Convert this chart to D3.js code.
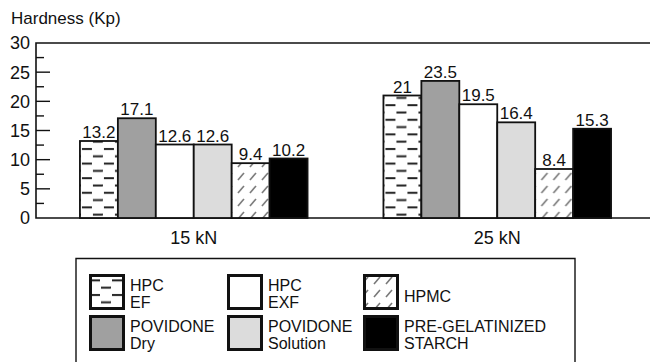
<!DOCTYPE html>
<html>
<head>
<meta charset="utf-8">
<script src="https://cdn.jsdelivr.net/npm/d3@7"></script>
<style>
  html, body { margin: 0; padding: 0; background: #fff; }
  svg { display: block; font-family: "Liberation Sans", Arial, sans-serif; }
</style>
</head>
<body>
<svg id="chart" width="650" height="362"></svg>
<script>
// ---- data ----
const categories = ["15 kN", "25 kN"];
const seriesNames = ["HPC EF", "POVIDONE Dry", "HPC EXF", "POVIDONE Solution", "HPMC", "PRE-GELATINIZED STARCH"];
const hpcEF = [13.2, 21];
const povidoneDry = [17.1, 23.5];
const hpcEXF = [12.6, 19.5];
const povidoneSolution = [12.6, 16.4];
const hpmc = [9.4, 8.4];
const pregelStarch = [10.2, 15.3];
const yTicks = [0, 5, 10, 15, 20, 25, 30];
const legendLabels = [["HPC", "EF"], ["POVIDONE", "Dry"], ["HPC", "EXF"], ["POVIDONE", "Solution"], ["HPMC"], ["PRE-GELATINIZED", "STARCH"]];

const seriesValues = [hpcEF, povidoneDry, hpcEXF, povidoneSolution, hpmc, pregelStarch];
const fills = ["url(#dashes)", "#a0a0a0", "#ffffff", "#dcdcdc", "url(#diag)", "#000000"];

const svg = d3.select("#chart");

// patterns
const defs = svg.append("defs");
const pd = defs.append("pattern").attr("id", "dashes").attr("patternUnits", "userSpaceOnUse")
  .attr("width", 22).attr("height", 14.6);
pd.append("rect").attr("width", 22).attr("height", 14.6).attr("fill", "#fff");
pd.append("line").attr("x1", 2).attr("x2", 12).attr("y1", 3).attr("y2", 3).attr("stroke", "#222").attr("stroke-width", 2);
pd.append("line").attr("x1", 13).attr("x2", 23).attr("y1", 10.3).attr("y2", 10.3).attr("stroke", "#222").attr("stroke-width", 2);
pd.append("line").attr("x1", -9).attr("x2", 1).attr("y1", 10.3).attr("y2", 10.3).attr("stroke", "#222").attr("stroke-width", 2);

const pg = defs.append("pattern").attr("id", "diag").attr("patternUnits", "userSpaceOnUse")
  .attr("width", 12).attr("height", 13);
pg.append("rect").attr("width", 12).attr("height", 13).attr("fill", "#fff");
pg.append("line").attr("x1", 2).attr("y1", 11).attr("x2", 8).attr("y2", 4).attr("stroke", "#777").attr("stroke-width", 1.6);

// scales
const plotLeft = 36, plotRight = 660, plotTop = 43, plotBottom = 218;
const y = d3.scaleLinear().domain([0, 30]).range([plotBottom, plotTop]);
const x0 = d3.scaleBand().domain(categories).range([42, 649]).paddingInner(0.25).paddingOuter(0.125);
const x1 = d3.scaleBand().domain(seriesNames).range([0, x0.bandwidth()]);

// title
svg.append("text").attr("x", 11).attr("y", 24).attr("font-size", 17).attr("fill", "#111").text("Hardness (Kp)");

// frame
svg.append("path")
  .attr("d", `M${plotRight},${plotTop}H${plotLeft}V${plotBottom}H${plotRight}`)
  .attr("fill", "none").attr("stroke", "#111").attr("stroke-width", 1.6);

// y axis ticks (inward) and labels
const yg = svg.append("g").attr("transform", `translate(${plotLeft},0)`);
yg.selectAll("line.tick").data(d3.range(2.5, 30, 2.5)).enter().append("line")
  .attr("x1", 0).attr("x2", d => (d % 5 === 0 ? 14 : 8))
  .attr("y1", d => y(d)).attr("y2", d => y(d))
  .attr("stroke", "#111").attr("stroke-width", 1.4);
yg.selectAll("text").data(yTicks).enter().append("text")
  .attr("x", -6).attr("y", d => y(d)).attr("dy", "0.36em")
  .attr("text-anchor", "end").attr("font-size", 18).attr("fill", "#111").text(d => d);

// bars
const groups = svg.append("g").selectAll("g").data(categories).enter().append("g")
  .attr("transform", d => `translate(${x0(d)},0)`);

groups.each(function(cat, ci) {
  const g = d3.select(this);
  seriesNames.forEach((s, si) => {
    const v = seriesValues[si][ci];
    g.append("rect")
      .attr("x", x1(s)).attr("y", y(v))
      .attr("width", x1.bandwidth()).attr("height", y(0) - y(v))
      .attr("fill", fills[si]).attr("stroke", "#111").attr("stroke-width", 1.8);
    g.append("text")
      .attr("x", x1(s) + x1.bandwidth() / 2).attr("y", y(v) - 3)
      .attr("text-anchor", "middle").attr("font-size", 17).attr("fill", "#111")
      .text(v);
  });
});

// category labels
svg.append("g").selectAll("text").data(categories).enter().append("text")
  .attr("x", d => x0(d) + x0.bandwidth() / 2).attr("y", 244)
  .attr("text-anchor", "middle").attr("font-size", 18).attr("fill", "#111").text(d => d);

// legend
svg.append("path").attr("d", "M76,370V258.5H575V370").attr("fill", "none").attr("stroke", "#111").attr("stroke-width", 1.4);
const legCols = [89, 227, 363];
const legRows = [274, 315];
const legendOrder = [0, 2, 4, 1, 3, 5];
legendOrder.forEach((si, k) => {
  const cx = legCols[k % 3], ry = legRows[Math.floor(k / 3)];
  svg.append("rect").attr("x", cx + 1.5).attr("y", ry + 1.5).attr("width", 33).attr("height", 33)
    .attr("fill", fills[si]).attr("stroke", "#111").attr("stroke-width", 3);
  const lines = legendLabels[si];
  const t = svg.append("text").attr("x", cx + 41).attr("font-size", 16).attr("fill", "#111");
  if (lines.length === 1) {
    t.attr("y", ry + 28).text(lines[0]);
  } else {
    lines.forEach((ln, li) => {
      t.append("tspan").attr("x", cx + 41).attr("y", ry + 17 + li * 16.5).text(ln);
    });
  }
});
</script>
</body>
</html>
